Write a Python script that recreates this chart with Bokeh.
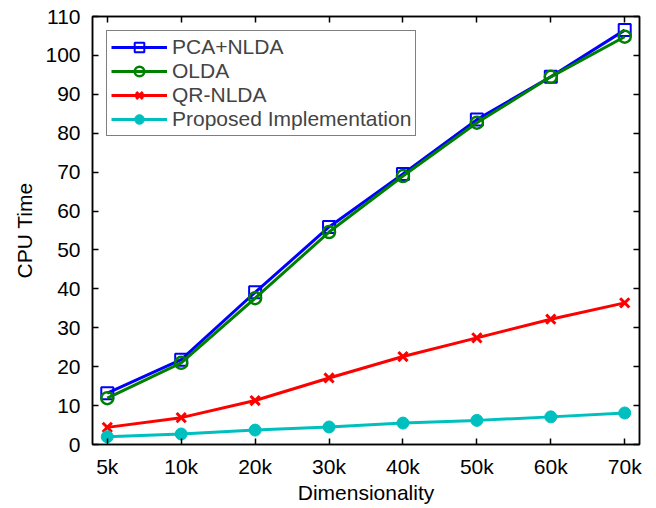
from bokeh.plotting import figure
from bokeh.models import FixedTicker, LinearAxis, Range1d
from bokeh.embed import file_html
from bokeh.resources import INLINE

categories = ["5k", "10k", "20k", "30k", "40k", "50k", "60k", "70k"]
pca_nlda = [13.2, 21.8, 39.1, 55.9, 69.5, 83.5, 94.5, 106.5]
olda = [11.9, 21.0, 37.6, 54.6, 69.0, 82.7, 94.5, 104.8]
qr_nlda = [4.4, 6.9, 11.3, 17.1, 22.6, 27.4, 32.2, 36.4]
proposed = [2.0, 2.7, 3.7, 4.5, 5.5, 6.2, 7.1, 8.1]
y_ticks = list(range(0, 111, 10))

FONT = "Liberation Sans"
FS = "21px"

xs = list(range(len(categories)))

p = figure(width=648, height=506, output_backend="svg", toolbar_location=None,
           x_range=Range1d(-0.2, 7.2), y_range=Range1d(0, 110),
           min_border_left=92, min_border_right=9, min_border_top=16, min_border_bottom=40)
p.grid.visible = False
p.outline_line_color = "black"
p.outline_line_width = 1.5

def style_axis(ax, labels=True):
    ax.axis_line_color = "black"
    ax.axis_line_width = 1.5
    ax.major_tick_in = 6
    ax.major_tick_out = 0
    ax.minor_tick_line_color = None
    ax.major_tick_line_width = 1.5
    ax.major_label_text_font = FONT
    ax.major_label_text_font_size = FS
    ax.major_label_text_color = "black"
    ax.axis_label_text_font = FONT
    ax.axis_label_text_font_size = FS
    ax.axis_label_text_font_style = "normal"
    ax.axis_label_text_color = "black"
    if not labels:
        ax.major_label_text_font_size = "0px"
        ax.major_label_text_color = None

xax = p.xaxis[0]
xax.ticker = FixedTicker(ticks=xs)
xax.major_label_overrides = {i: c for i, c in enumerate(categories)}
xax.axis_label = "Dimensionality"
xax.major_label_standoff = 10
xax.axis_label_standoff = 0
style_axis(xax)

yax = p.yaxis[0]
yax.ticker = FixedTicker(ticks=y_ticks)
yax.axis_label = "CPU Time"
yax.major_label_standoff = 12
yax.axis_label_standoff = 6
style_axis(yax)

top = LinearAxis(ticker=FixedTicker(ticks=xs))
style_axis(top, labels=False)
p.add_layout(top, "above")
right = LinearAxis(ticker=FixedTicker(ticks=y_ticks))
style_axis(right, labels=False)
p.add_layout(right, "right")

LW = 3
p.line(xs, pca_nlda, color="#0000FF", line_width=LW, legend_label="PCA+NLDA")
p.scatter(xs, pca_nlda, marker="square", size=12, fill_color=None, line_color="#0000FF",
          line_width=2, legend_label="PCA+NLDA")
p.line(xs, olda, color="#008000", line_width=LW, legend_label="OLDA")
p.scatter(xs, olda, marker="circle", size=12, fill_color=None, line_color="#008000",
          line_width=2.5, legend_label="OLDA")
p.line(xs, qr_nlda, color="#FF0000", line_width=LW, legend_label="QR-NLDA")
p.scatter(xs, qr_nlda, marker="x", size=13, line_color="#FF0000",
          line_width=3, legend_label="QR-NLDA")
p.line(xs, proposed, color="#00BFBF", line_width=LW, legend_label="Proposed Implementation")
p.scatter(xs, proposed, marker="circle", size=12, fill_color="#00BFBF", line_color="#00BFBF",
          legend_label="Proposed Implementation")

lg = p.legend[0]
lg.location = "top_left"
lg.margin = 14
lg.border_line_color = "black"
lg.border_line_width = 1.5
lg.background_fill_alpha = 1
lg.label_text_font = FONT
lg.label_text_font_size = FS
lg.glyph_width = 56
lg.glyph_height = 24
lg.label_height = 24
lg.spacing = 0
lg.padding = 4
lg.label_standoff = 5

open("out.html", "w").write(file_html(p, INLINE))
